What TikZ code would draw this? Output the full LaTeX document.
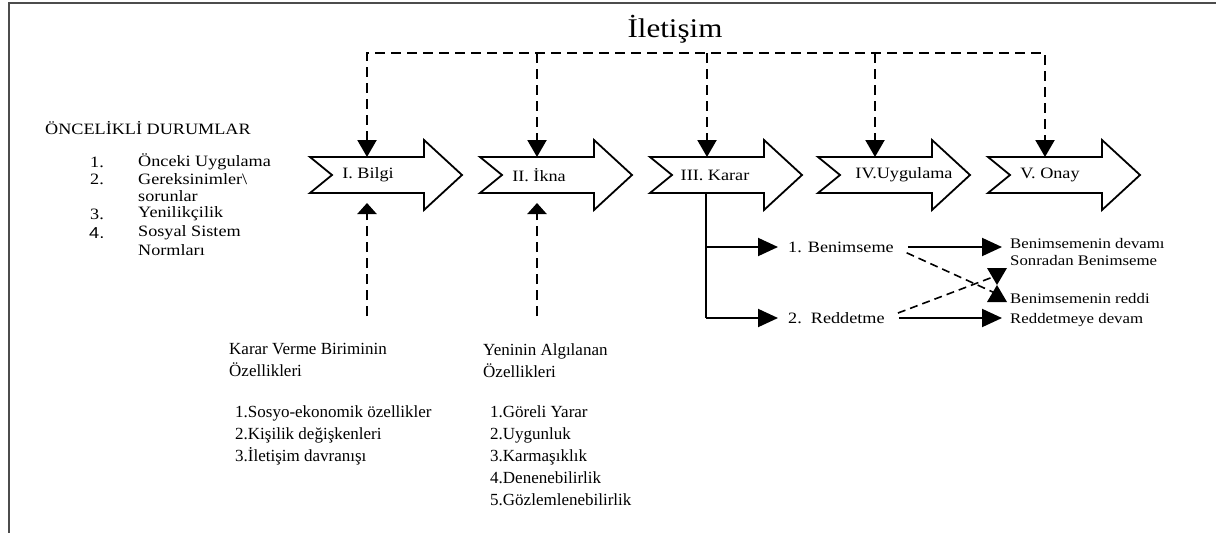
\documentclass[tikz,border=0pt]{standalone}
\usepackage{fontspec}
\setmainfont{Liberation Serif}
\newfontfamily\numfont{Liberation Sans}
\usetikzlibrary{arrows.meta}

\tikzset{
  stage/.style={draw, line width=1.8pt, fill=white, line join=miter},
  lbl/.style={inner sep=0pt, font=\fontsize{15.8}{19}\selectfont, xscale=1.15},
  side/.style={inner sep=0pt, font=\fontsize{14.6}{17}\selectfont, xscale=1.15},
  txt/.style={inner sep=0pt, font=\fontsize{17}{22}\selectfont},
  dashline/.style={line width=2.2pt, dash pattern=on 10pt off 6pt},
  solidline/.style={line width=2pt},
  bighead/.style={-{Triangle[length=17pt,width=19pt]}},
  smallhead/.style={-{Triangle[length=11pt,width=19pt]}},
  sidehead/.style={-{Triangle[length=20pt,width=18pt]}}
}

\begin{document}
\begin{tikzpicture}[x=1pt, y=-1pt]
  \useasboundingbox (0,0) rectangle (1216,533);
  % frame
  \draw[line width=2pt, draw=black!70] (9,533) -- (9,3) -- (1216,3);

  \node[inner sep=0pt, font=\fontsize{27}{31}\selectfont, xscale=1.15] (ilt) at (675,29) {İletişim};

  % the five stages
  \foreach \x/\t/\c/\n in {310/I. Bilgi/368/1, 480/II. İkna/539/2, 650/III. Karar/715/3,
                           818/IV.Uygulama/904/4, 988/V. Onay/1050/5} {
    \draw[stage] (\x,157) -- ++(114,0) -- ++(0,-17) -- ++(38,35) -- ++(-38,35)
      -- ++(0,-17) -- ++(-114,0) -- ++(22,-18) -- cycle;
    \node[lbl] (s\n) at (\c,175) {\t};
    \coordinate (t\n) at (\x+57,157);
    \coordinate (c\n) at (\x+57,53);
  }

  % communication
  \draw[dashline, {Triangle[length=17pt,width=19pt]}-{Triangle[length=17pt,width=19pt]}]
    (t1) -- (c1) -- (c5) -- (t5);
  \foreach \n in {2,3,4}
    \draw[dashline, bighead] (c\n) -- (t\n);

  % prior conditions
  \node[lbl, anchor=west] (onc) at (45,128) {ÖNCELİKLİ DURUMLAR};
  \node[lbl, anchor=west] (n1) at (90,162) {1.};
  \node[lbl, anchor=west] (p1) at (138,162) {Önceki Uygulama};
  \node[lbl, anchor=west] (n2) at (90,179) {2.};
  \node[lbl, anchor=west] (p2) at (138,179) {Gereksinimler\textbackslash};
  \node[lbl, anchor=west] (p2b) at (138,196) {sorunlar};
  \node[lbl, anchor=west] (n3) at (90,214) {3.};
  \node[lbl, anchor=west] (p3) at (138,214) {Yenilikçilik};
  \node[lbl, anchor=west, font=\numfont\fontsize{15.8}{19}\selectfont] (n4) at (89,233) {4.};
  \node[lbl, anchor=west] (p4) at (138,233) {Sosyal Sistem};
  \node[lbl, anchor=west] (p4b) at (138,250) {Normları};

  % influences from below
  \coordinate (k1) at (367,316);
  \coordinate (u1) at (367,203);
  \coordinate (k2) at (537,316);
  \coordinate (u2) at (537,203);
  \draw[dashline, smallhead] (k1) -- (u1);
  \draw[dashline, smallhead] (k2) -- (u2);

  \node[txt, align=left, anchor=north west] (kv) at (229,343) {Karar Verme Biriminin\\Özellikleri};
  \foreach \t [count=\i] in {1.Sosyo-ekonomik özellikler, 2.Kişilik değişkenleri, 3.İletişim davranışı}
    \node[txt, anchor=base west] (kv\i) at (235,395+22*\i) {\t};

  \node[txt, align=left, anchor=north west] (ya) at (483,343) {Yeninin Algılanan\\Özellikleri};
  \foreach \t [count=\i] in {1.Göreli Yarar, 2.Uygunluk, 3.Karmaşıklık, 4.Denenebilirlik, 5.Gözlemlenebilirlik}
    \node[txt, anchor=base west] (ya\i) at (490,395+22*\i) {\t};

  % decision branches
  \coordinate (d0) at (706,193);
  \coordinate (d1) at (706,247);
  \coordinate (d2) at (706,318);
  \node[lbl, anchor=west] (ben) at (788,247) {1. Benimseme};
  \node[lbl, anchor=west] (red) at (788,318) {2.\ \ Reddetme};
  \draw[solidline] (d0) -- (d2);
  \draw[solidline, sidehead, shorten >=10pt] (d1) -- (ben.west);
  \draw[solidline, sidehead, shorten >=10pt] (d2) -- (red.west);

  \node[side, anchor=west] (bd) at (1010,244) {Benimsemenin devamı};
  \node[side, anchor=west] (sb) at (1010,261) {Sonradan Benimseme};
  \node[side, anchor=west] (br) at (1010,299) {Benimsemenin reddi};
  \node[side, anchor=west] (rd) at (1010,320) {Reddetmeye devam};
  \draw[solidline, sidehead, shorten <=14pt, shorten >=8pt] (ben.east) -- (ben.east -| bd.west);
  \draw[solidline, sidehead, shorten <=14pt, shorten >=8pt] (red.east) -- (red.east -| rd.west);

  % changed decisions
  \coordinate (hg) at (997,285);
  \coordinate (hga) at (995,293);
  \coordinate (hgb) at (993,277);
  \fill (hg) -- ++(-10,-17) -- ++(20,0) -- cycle;
  \fill (hg) -- ++(-10,17) -- ++(20,0) -- cycle;
  \draw[line width=1.6pt, dash pattern=on 8pt off 5pt, shorten <=14pt] (ben.east) -- (hga);
  \draw[line width=1.6pt, dash pattern=on 8pt off 5pt, shorten <=14pt] (red.east) -- (hgb);
\end{tikzpicture}
\end{document}
